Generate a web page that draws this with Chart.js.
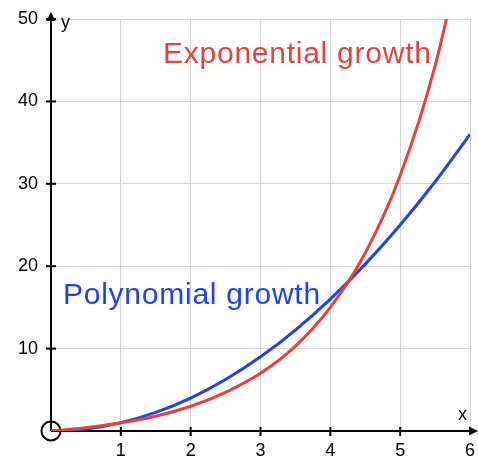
<!DOCTYPE html>
<html>
<head>
<meta charset="utf-8">
<script src="https://cdn.jsdelivr.net/npm/chart.js@4"></script>
<style>
  body { margin: 0; background: #fff; }
  canvas { display: block; }
</style>
</head>
<body>
<canvas id="chart" width="478" height="457"></canvas>
<script>
// values
const xValues = [0, 0.5, 1, 1.5, 2, 2.5, 3, 3.5, 4, 4.5, 5, 5.5, 6];
const polyValues = [0, 0.25, 1, 2.25, 4, 6.25, 9, 12.25, 16, 20.25, 25, 30.25, 36];
const expValues = [0, 0.4, 1, 1.8, 3, 4.7, 7, 10.3, 15, 21.6, 31, 44.3, 63];
const xTicks = [1, 2, 3, 4, 5, 6];
const yTicks = [10, 20, 30, 40, 50];

const FONT = '"Liberation Sans", Arial, sans-serif';
const RED = '#e8413b';
const BLUE = '#1f42f0';

const toPoints = (ys) => xValues.map((x, i) => ({ x: x, y: ys[i] }));

// axes with arrows, tick marks and the origin circle
const axesPlugin = {
    id: 'axes',
    beforeDatasetsDraw(chart) {
        const { ctx, chartArea, scales } = chart;
        const x0 = scales.x.getPixelForValue(0);
        const y0 = scales.y.getPixelForValue(0);
        ctx.save();
        ctx.strokeStyle = '#000';
        ctx.fillStyle = '#000';
        ctx.lineWidth = 2;

        // x axis
        ctx.beginPath();
        ctx.moveTo(x0, y0);
        ctx.lineTo(chartArea.right + 2, y0);
        ctx.stroke();
        ctx.beginPath();
        ctx.moveTo(chartArea.right + 8, y0);
        ctx.lineTo(chartArea.right - 1, y0 - 4.5);
        ctx.lineTo(chartArea.right - 1, y0 + 4.5);
        ctx.closePath();
        ctx.fill();

        // y axis
        ctx.beginPath();
        ctx.moveTo(x0, y0);
        ctx.lineTo(x0, chartArea.top - 2);
        ctx.stroke();
        ctx.beginPath();
        ctx.moveTo(x0, chartArea.top - 7);
        ctx.lineTo(x0 - 4.5, chartArea.top + 2);
        ctx.lineTo(x0 + 4.5, chartArea.top + 2);
        ctx.closePath();
        ctx.fill();

        // tick marks
        xTicks.forEach(v => {
            if (v === 6) return;
            const px = scales.x.getPixelForValue(v);
            ctx.beginPath();
            ctx.moveTo(px, y0 - 4);
            ctx.lineTo(px, y0 + 5);
            ctx.stroke();
        });
        yTicks.forEach(v => {
            const py = scales.y.getPixelForValue(v);
            ctx.beginPath();
            ctx.moveTo(x0 - 5, py);
            ctx.lineTo(x0 + 5, py);
            ctx.stroke();
        });

        // origin circle
        ctx.beginPath();
        ctx.arc(x0, y0, 9.5, 0, Math.PI * 2);
        ctx.stroke();

        // axis letters
        ctx.font = '18px ' + FONT;
        ctx.textAlign = 'left';
        ctx.textBaseline = 'alphabetic';
        ctx.fillText('y', x0 + 10, chartArea.top + 9);
        ctx.fillText('x', chartArea.right - 12, y0 - 11);
        ctx.restore();
    },
    afterDraw(chart) {
        const { ctx } = chart;
        ctx.save();
        ctx.font = '30px ' + FONT;
        ctx.letterSpacing = '0.75px';
        ctx.textAlign = 'left';
        ctx.textBaseline = 'alphabetic';
        ctx.fillStyle = RED;
        ctx.fillText('Exponential growth', 163, 63);
        ctx.fillStyle = BLUE;
        ctx.fillText('Polynomial growth', 63, 304);
        ctx.restore();
    }
};

new Chart(document.getElementById('chart'), {
    type: 'line',
    data: {
        datasets: [
            {
                label: 'Exponential growth',
                data: toPoints(expValues),
                borderColor: RED,
                borderWidth: 3,
                pointRadius: 0,
                cubicInterpolationMode: 'monotone',
                fill: false
            },
            {
                label: 'Polynomial growth',
                data: toPoints(polyValues),
                borderColor: BLUE,
                borderWidth: 3,
                pointRadius: 0,
                cubicInterpolationMode: 'monotone',
                fill: false
            }
        ]
    },
    options: {
        responsive: false,
        animation: false,
        devicePixelRatio: 1,
        layout: { padding: { top: 19, right: 8, left: 0, bottom: 0 } },
        plugins: {
            legend: { display: false },
            tooltip: { enabled: false }
        },
        scales: {
            x: {
                type: 'linear',
                min: 0,
                max: 6,
                afterFit(scale) {
                    scale.height = 26;
                    scale.paddingLeft = 0;
                    scale.paddingRight = 0;
                },
                afterBuildTicks(scale) { scale.ticks = [0].concat(xTicks).map(v => ({ value: v })); },
                ticks: {
                    callback: v => (v === 0 ? '' : String(v)),
                    font: { family: FONT, size: 18 },
                    color: '#000',
                    padding: 9,
                    maxRotation: 0
                },
                grid: { color: '#d4d4d4', lineWidth: 1, drawTicks: false },
                border: { display: false }
            },
            y: {
                min: 0,
                max: 50,
                afterFit(scale) {
                    scale.width = 51;
                    scale.paddingTop = 0;
                    scale.paddingBottom = 0;
                },
                afterBuildTicks(scale) { scale.ticks = [0].concat(yTicks).map(v => ({ value: v })); },
                ticks: {
                    callback: v => (v === 0 ? '' : String(v)),
                    font: { family: FONT, size: 18 },
                    color: '#000',
                    padding: 13
                },
                grid: { color: '#d4d4d4', lineWidth: 1, drawTicks: false },
                border: { display: false }
            }
        }
    },
    plugins: [axesPlugin]
});
</script>
</body>
</html>
